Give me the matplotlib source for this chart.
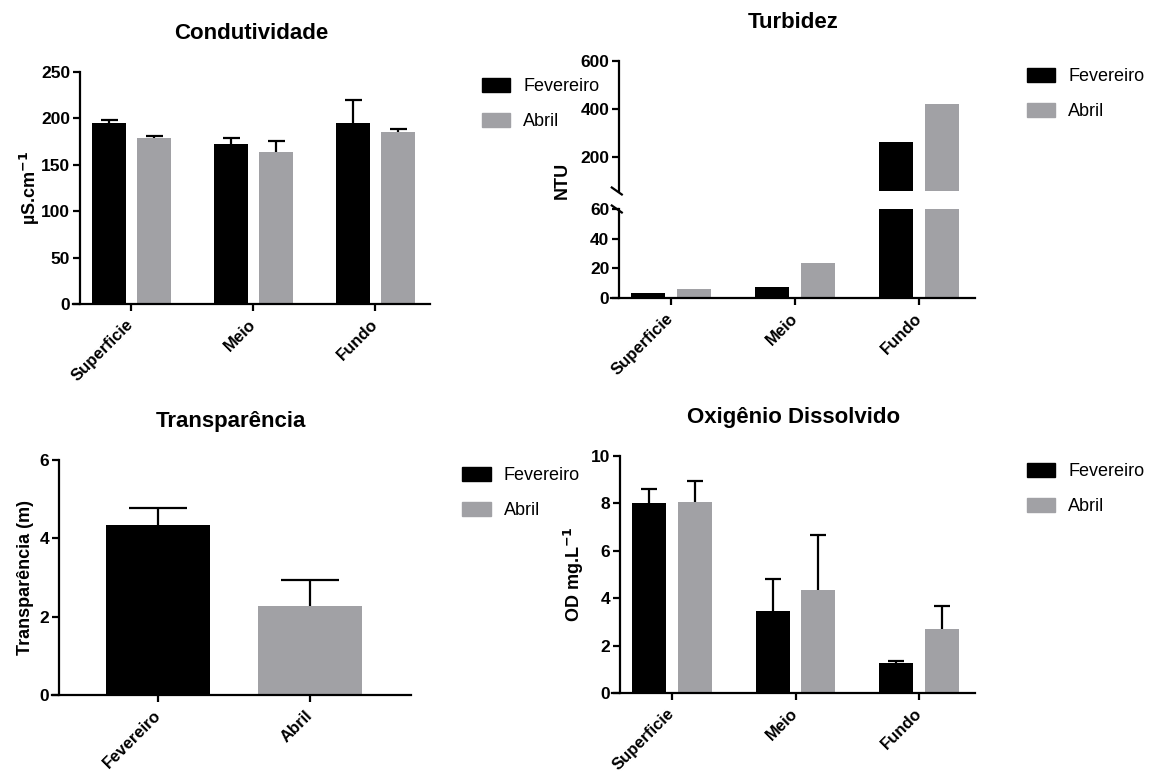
import matplotlib
matplotlib.use("Agg")
import matplotlib.pyplot as plt
from matplotlib.patches import Patch
import numpy as np

plt.rcParams['font.family'] = ['Liberation Sans', 'DejaVu Sans']

# ---------------- data ----------------
depths = ["Superficie", "Meio", "Fundo"]
series = ["Fevereiro", "Abril"]

cond_fev = [195, 172, 195]
cond_fev_err = [3, 7, 25]
cond_abr = [179, 164, 185]
cond_abr_err = [1.5, 12, 3]

turb_fev = [3.5, 7.2, 263]
turb_abr = [6.0, 23.5, 420]

transp_cats = ["Fevereiro", "Abril"]
transp_vals = [4.34, 2.28]
transp_err = [0.44, 0.66]

od_fev = [8.0, 3.45, 1.26]
od_fev_err = [0.6, 1.36, 0.11]
od_abr = [8.07, 4.35, 2.7]
od_abr_err = [0.86, 2.3, 0.97]

# ---------------- style ----------------
BLACK = "#000000"
GRAY = "#a1a1a5"
LW = 1.6
W, H = 1157, 773

fig = plt.figure(figsize=(W / 100, H / 100), dpi=100)


def add_axes_px(left, top, right, bottom):
    return fig.add_axes([left / W, 1 - bottom / H, (right - left) / W, (bottom - top) / H])


def style(ax, spine_offset):
    for s in ["top", "right"]:
        ax.spines[s].set_visible(False)
    for s in ["left", "bottom"]:
        ax.spines[s].set_linewidth(LW)
    ax.spines["left"].set_position(("outward", -spine_offset))
    ax.tick_params(axis="both", direction="out", length=5, width=LW, labelsize=12.5, pad=2)
    for lab in ax.get_yticklabels():
        lab.set_fontweight("bold")


def xlabels(ax, labels):
    ax.set_xticks(range(len(labels)))
    ax.set_xticklabels(labels, rotation=45, ha="right", va="center",
                       rotation_mode="anchor", fontsize=12, fontweight="bold")
    ax.tick_params(axis="x", pad=8)


def legend(ax, x_px, y_px):
    handles = [Patch(facecolor=BLACK, edgecolor=BLACK), Patch(facecolor=GRAY, edgecolor=GRAY)]
    fig.legend(handles, series, loc="upper left", bbox_to_anchor=(x_px / W, 1 - y_px / H),
               frameon=False, fontsize=13, handlelength=1.6, handleheight=0.85,
               handletextpad=0.7, labelspacing=0.95, borderaxespad=0, borderpad=0)


def title(ax, text):
    ax.set_title(text, fontsize=16, fontweight="bold", pad=23.5)


def upper_err(ax, xs, ys, errs, cap_px):
    xs = np.asarray(xs, float)
    ys = np.asarray(ys, float)
    tops = ys + np.asarray(errs, float)
    ax.vlines(xs, ys, tops, colors=BLACK, linewidth=LW, zorder=3)
    ax.plot(xs, tops, linestyle="none", marker="_", markersize=cap_px * 0.72,
            markeredgewidth=LW, color=BLACK, zorder=3)


off = 0.185
bw = 0.275
x = np.arange(len(depths))

# ---------- Condutividade ----------
ax1 = add_axes_px(72.9, 71.7, 430.3, 304.3)
ax1.bar(x - off, cond_fev, bw, color=BLACK)
ax1.bar(x + off, cond_abr, bw, color=GRAY)
upper_err(ax1, x - off, cond_fev, cond_fev_err, 17)
upper_err(ax1, x + off, cond_abr, cond_abr_err, 17)
ax1.set_xlim(-0.479, 2.449)
ax1.set_ylim(0, 250)
ax1.set_yticks([0, 50, 100, 150, 200, 250])
style(ax1, 5)
xlabels(ax1, depths)
ax1.set_ylabel("µS.cm$^{\\mathbf{-1}}$", fontsize=13, fontweight="bold", labelpad=-1)
title(ax1, "Condutividade")
legend(ax1, 481.5, 78)

# ---------- Turbidez (broken axis) ----------
ax2u = add_axes_px(610.8, 61, 974.9, 191)
ax2l = add_axes_px(610.8, 209, 974.9, 297.7)
for a in (ax2u, ax2l):
    a.bar(x - off, turb_fev, bw, color=BLACK)
    a.bar(x + off, turb_abr, bw, color=GRAY)
    a.set_xlim(-0.485, 2.45)
ax2u.set_ylim(60, 600)
ax2u.set_yticks([200, 400, 600])
ax2l.set_ylim(0, 60)
ax2l.set_yticks([0, 20, 40, 60])
style(ax2u, 6)
style(ax2l, 6)
ax2u.spines["bottom"].set_visible(False)
ax2u.tick_params(axis="x", which="both", bottom=False, labelbottom=False)
xlabels(ax2l, depths)
# break marks
for a, yv in ((ax2u, 0.0), (ax2l, 1.0)):
    sx = 6 / (974.9 - 610.8)
    h = a.get_position().height * H
    dy = 3.5 / h
    dx = 5 / (974.9 - 610.8)
    a.plot([sx - dx, sx + dx], [yv + dy, yv - dy], transform=a.transAxes,
           color=BLACK, lw=LW, clip_on=False)
fig.text(562.5 / W, 1 - 180 / H, "NTU", rotation=90, ha="center", va="center",
         fontsize=13, fontweight="bold")
title(ax2u, "Turbidez")
legend(ax2u, 1026.5, 68)

# ---------- Transparência ----------
ax3 = add_axes_px(51.8, 460, 410.7, 695)
xt = np.arange(len(transp_cats))
ax3.bar(xt, transp_vals, 0.683, color=[BLACK, GRAY])
upper_err(ax3, xt, transp_vals, transp_err, 58)
ax3.set_xlim(-0.702, 1.664)
ax3.set_ylim(0, 6)
ax3.set_yticks([0, 2, 4, 6])
style(ax3, 5)
xlabels(ax3, transp_cats)
ax3.set_ylabel("Transparência (m)", fontsize=13, fontweight="bold", labelpad=4)
title(ax3, "Transparência")
legend(ax3, 462, 467)

# ---------- Oxigênio Dissolvido ----------
ax4 = add_axes_px(612, 455.7, 974.9, 693.3)
ax4.bar(x - off, od_fev, bw, color=BLACK)
ax4.bar(x + off, od_abr, bw, color=GRAY)
upper_err(ax4, x - off, od_fev, od_fev_err, 16)
upper_err(ax4, x + off, od_abr, od_abr_err, 16)
ax4.set_xlim(-0.485, 2.45)
ax4.set_ylim(0, 10)
ax4.set_yticks([0, 2, 4, 6, 8, 10])
style(ax4, 5.5)
xlabels(ax4, depths)
ax4.set_ylabel("OD mg.L$^{\\mathbf{-1}}$", fontsize=13, fontweight="bold", labelpad=3)
title(ax4, "Oxigênio Dissolvido")
legend(ax4, 1026.5, 463)

fig.savefig("out.png", dpi=100)
